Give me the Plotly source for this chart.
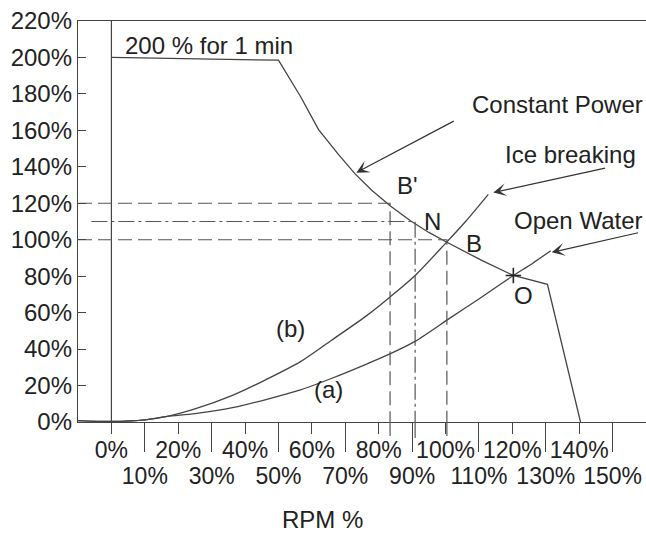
import plotly.graph_objects as go

# ---------------- data ----------------
# Constant power limit curve (torque % vs RPM %)
cp_x = [0, 50, 56.6, 62, 68, 73, 78, 83.5, 89.5, 95, 100, 111, 120.3, 130.5, 140.4]
cp_y = [200, 198.5, 178.6, 160.4, 146.7, 136, 127, 118.5, 110.4, 104, 99, 88.5, 80.4, 75.5, 0]

# (b) Ice breaking curve
ice_x = [-10, 0, 10, 16.7, 25, 36.6, 46, 56.6, 66, 76.5, 83.4, 90.9, 100, 106, 112.8]
ice_y = [0.8, 0.3, 1.2, 3.1, 7.2, 14.9, 23, 33.1, 45, 58.5, 68.6, 80.4, 98, 110, 124.9]

# (a) Open water curve
ow_x = [-10, 0, 10, 16.7, 25, 36.6, 46, 56.6, 66, 76, 83.5, 91, 101.3, 110, 120.3, 126, 131.5]
ow_y = [0.8, 0.3, 1.2, 3.1, 4.6, 8.0, 12.2, 17.6, 24, 31.5, 37.5, 44.4, 57, 67.5, 80.4, 87, 94]

# reference levels: (start x, corner x, level y)
ref_120 = (-10, 83.4, 120)
ref_110 = (-6, 90.9, 110)
ref_100 = (-10, 100.4, 100)

# operating point O
o_x, o_y = [120.3], [80.4]

# ticks
y_ticks = list(range(0, 221, 20))
y_labels = [f"{v}%" for v in y_ticks]
x_even = list(range(0, 141, 20))
x_even_labels = [f"{v}%" for v in x_even]
x_odd = list(range(10, 151, 20))
x_odd_labels = [f"{v}%" for v in x_odd]

FONT = "Liberation Sans, Arial, Helvetica, sans-serif"
TXT = "#222222"
LINE = "#444444"
DASHC = "#555555"
FS = 24
FSX = 23

fig = go.Figure()

# 0 rpm vertical line
fig.add_trace(go.Scatter(x=[0, 0], y=[0, 220], mode="lines",
                         line=dict(color=LINE, width=1.2), hoverinfo="skip"))

# constant power
fig.add_trace(go.Scatter(x=cp_x, y=cp_y, mode="lines",
                         line=dict(color=LINE, width=1.3), name="Constant Power"))
# ice breaking
fig.add_trace(go.Scatter(x=ice_x, y=ice_y, mode="lines",
                         line=dict(color=LINE, width=1.3, shape="spline", smoothing=0.8),
                         name="Ice breaking"))
# open water
fig.add_trace(go.Scatter(x=ow_x, y=ow_y, mode="lines",
                         line=dict(color=LINE, width=1.3, shape="spline", smoothing=0.8),
                         name="Open Water"))

# reference lines
for (x0, xc, yl), dash in [(ref_120, "14px,6px"), (ref_110, "16px,4px,3px,4px"), (ref_100, "14px,6px")]:
    fig.add_trace(go.Scatter(x=[x0, xc, xc], y=[yl, yl, 0], mode="lines",
                             line=dict(color=DASHC, width=1.2, dash=dash), hoverinfo="skip"))
    fig.add_shape(type="line", xref="x", yref="paper", x0=xc, x1=xc, y0=0, y1=-0.045,
                  line=dict(color=DASHC, width=1.2, dash=dash))

# O marker
fig.add_trace(go.Scatter(x=o_x, y=o_y, mode="markers",
                         marker=dict(symbol="cross-thin", size=11,
                                     line=dict(color="#222", width=1.6)), hoverinfo="skip"))

# dummy trace for the odd-tick axis
fig.add_trace(go.Scatter(x=x_odd, y=[None] * len(x_odd), xaxis="x2", mode="lines",
                         hoverinfo="skip"))

# text labels
texts = [
    ("200 % for 1 min", 3.4, 206.8, "left"),
    ("Constant Power", 159.8, 174, "right"),
    ("Ice breaking", 157.5, 146.7, "right"),
    ("Open Water", 159.8, 110.4, "right"),
    ("B'", 88.5, 129.8, "center"),
    ("N", 96.1, 110, "center"),
    ("B", 108.4, 98.2, "center"),
    ("O", 123.2, 69.3, "center"),
    ("(b)", 53.7, 51.3, "center"),
    ("(a)", 65, 18, "center"),
]
for t, x, y, xa in texts:
    fig.add_annotation(text=t, x=x, y=y, xref="x", yref="y", xanchor=xa, yanchor="middle",
                       showarrow=False, font=dict(family=FONT, size=FS, color=TXT))

# arrows (tip x,y ; tail ax,ay)
arrows = [
    (73.3, 136.8, 102.9, 165.5),
    (114.3, 125.9, 148.2, 139.5),
    (131.8, 93.1, 158.1, 104),
]
for x, y, ax, ay in arrows:
    fig.add_annotation(text="", x=x, y=y, ax=ax, ay=ay, xref="x", yref="y",
                       axref="x", ayref="y", showarrow=True, arrowhead=3,
                       arrowsize=1.8, arrowwidth=1.2, arrowcolor="#333")

# x title
fig.add_annotation(text="RPM %", xref="paper", yref="paper", x=0.43, y=0, yshift=-97,
                   xanchor="center", yanchor="middle", showarrow=False,
                   font=dict(family=FONT, size=FS, color=TXT))

fig.update_layout(
    width=646, height=533,
    margin=dict(l=78, r=0, t=21, b=111),
    paper_bgcolor="white", plot_bgcolor="white",
    showlegend=False,
    font=dict(family=FONT, size=FS, color=TXT),
    xaxis=dict(range=[-10, 160], showgrid=False, zeroline=False,
               showline=True, linecolor=LINE, linewidth=1.3, mirror=True,
               ticks="outside", ticklen=11, tickwidth=1.2, tickcolor=LINE,
               tickvals=x_even, ticktext=x_even_labels, tickangle=0,
               ticklabelstandoff=-4,
               tickfont=dict(family=FONT, size=FSX, color=TXT)),
    xaxis2=dict(range=[-10, 160], overlaying="x", matches="x", anchor="y", side="bottom",
                showgrid=False, zeroline=False, showline=False,
                ticks="outside", ticklen=29, tickwidth=1.2, tickcolor=LINE,
                tickvals=x_odd, ticktext=x_odd_labels, tickangle=0,
                ticklabelstandoff=4,
                tickfont=dict(family=FONT, size=FSX, color=TXT)),
    yaxis=dict(range=[0, 220], showgrid=False, zeroline=False,
               showline=True, linecolor=LINE, linewidth=1.3,
               ticks="inside", ticklen=8, tickwidth=1.2, tickcolor=LINE,
               tickvals=y_ticks, ticktext=y_labels,
               tickfont=dict(family=FONT, size=FS, color=TXT)),
)

fig.write_html("out.html", config={"displayModeBar": False},
               post_script="document.body.style.margin='0px';")
